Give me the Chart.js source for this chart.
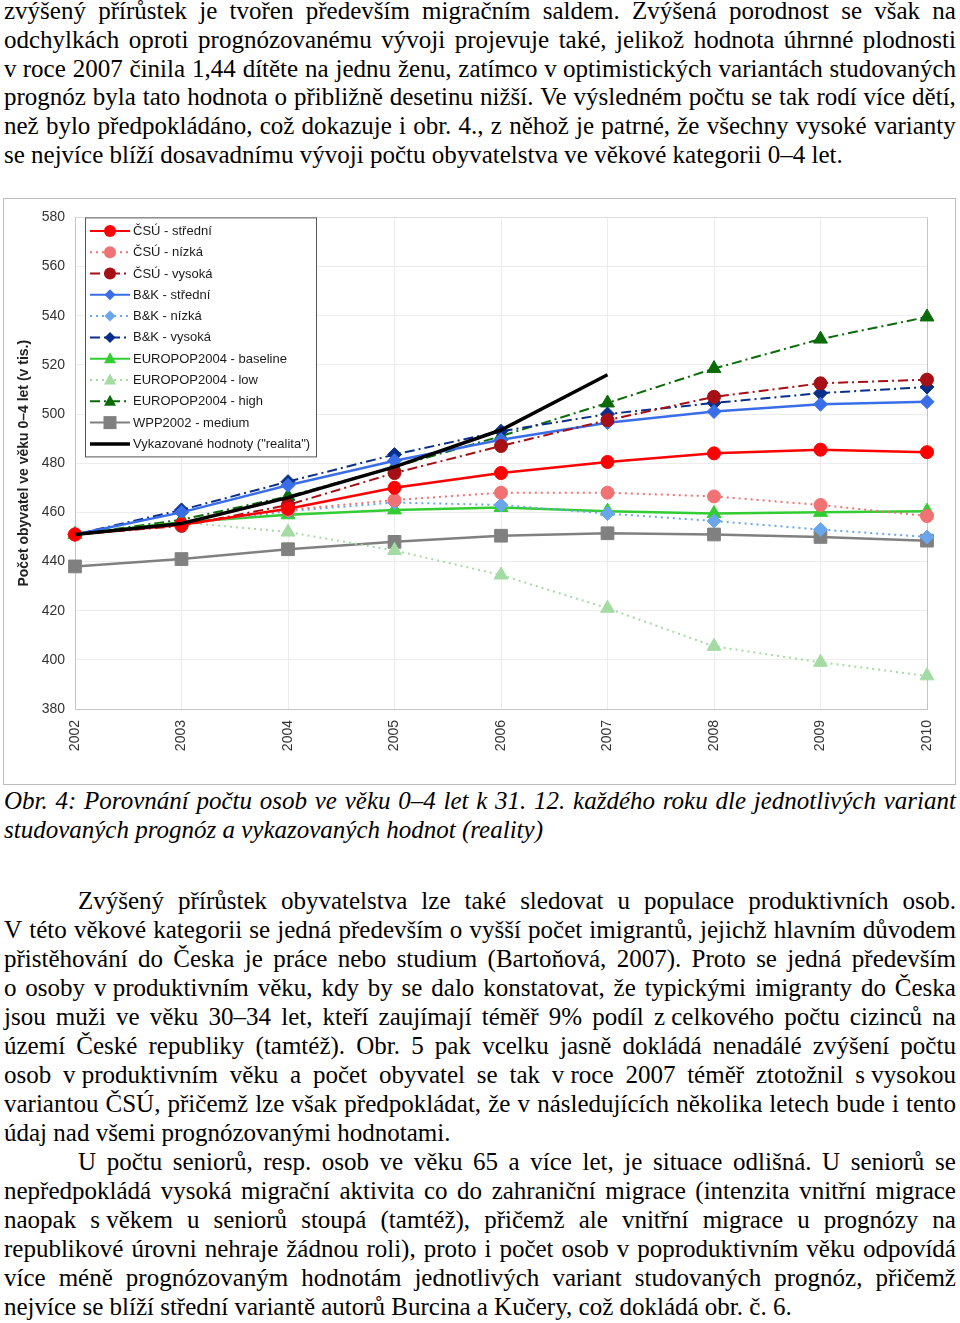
<!DOCTYPE html>
<html lang="cs">
<head>
<meta charset="utf-8">
<title>Obr. 4</title>
<script src="https://cdn.jsdelivr.net/npm/chart.js@4.4.1/dist/chart.umd.min.js"></script>
<style>
  html, body { margin: 0; padding: 0; background: #fff; }
  body {
    width: 960px; height: 1323px; position: relative; overflow: hidden;
    font-family: "Liberation Serif", "Times New Roman", serif;
    font-size: 25px; color: #000;
  }
  .ln { position: absolute; left: 4px; width: 952px; height: 29px; line-height: 29px; white-space: nowrap; }
  .ln.ind { left: 78px; width: 878px; }
  .j { display: flex; justify-content: space-between; }
  .it { font-style: italic; }
  #box {
    position: absolute; left: 3px; top: 198px; width: 951px; height: 585px;
    border: 1px solid #bdbdbd; background: #fff;
  }
  #chart { display: block; }
</style>
</head>
<body>

<div class="ln j" style="top:-4px">zvýšený přírůstek je tvořen především migračním saldem. Zvýšená porodnost se však na</div>
<div class="ln j" style="top:25px">odchylkách oproti prognózovanému vývoji projevuje také, jelikož hodnota úhrnné plodnosti</div>
<div class="ln j" style="top:54px">v&nbsp;roce 2007 činila 1,44 dítěte na jednu ženu, zatímco v&nbsp;optimistických variantách studovaných</div>
<div class="ln j" style="top:82px">prognóz byla tato hodnota o přibližně desetinu nižší. Ve výsledném počtu se tak rodí více dětí,</div>
<div class="ln j" style="top:111px">než bylo předpokládáno, což dokazuje i obr. 4., z něhož je patrné, že všechny vysoké varianty</div>
<div class="ln" style="top:140px">se nejvíce blíží dosavadnímu vývoji počtu obyvatelstva ve věkové kategorii 0–4 let.</div>

<div id="box"><canvas id="chart" width="951" height="585"></canvas></div>

<div class="ln j it" style="top:786px">Obr. 4: Porovnání počtu osob ve věku 0–4 let k 31. 12. každého roku dle jednotlivých variant</div>
<div class="ln it" style="top:815px">studovaných prognóz a vykazovaných hodnot (reality)</div>

<div class="ln j ind" style="top:886px">Zvýšený přírůstek obyvatelstva lze také sledovat u populace produktivních osob.</div>
<div class="ln j" style="top:915px">V této věkové kategorii se jedná především o vyšší počet imigrantů, jejichž hlavním důvodem</div>
<div class="ln j" style="top:944px">přistěhování do Česka je práce nebo studium (Bartoňová, 2007). Proto se jedná především</div>
<div class="ln j" style="top:973px">o osoby v&nbsp;produktivním věku, kdy by se dalo konstatovat, že typickými imigranty do Česka</div>
<div class="ln j" style="top:1002px">jsou muži ve věku 30–34 let, kteří zaujímají téměř 9% podíl z&nbsp;celkového počtu cizinců na</div>
<div class="ln j" style="top:1031px">území České republiky (tamtéž). Obr. 5 pak vcelku jasně dokládá nenadálé zvýšení počtu</div>
<div class="ln j" style="top:1060px">osob v&nbsp;produktivním věku a počet obyvatel se tak v&nbsp;roce 2007 téměř ztotožnil s&nbsp;vysokou</div>
<div class="ln j" style="top:1089px">variantou ČSÚ, přičemž lze však předpokládat, že v následujících několika letech bude i tento</div>
<div class="ln" style="top:1118px">údaj nad všemi prognózovanými hodnotami.</div>
<div class="ln j ind" style="top:1147px">U počtu seniorů, resp. osob ve věku 65 a více let, je situace odlišná. U seniorů se</div>
<div class="ln j" style="top:1176px">nepředpokládá vysoká migrační aktivita co do zahraniční migrace (intenzita vnitřní migrace</div>
<div class="ln j" style="top:1205px">naopak s&nbsp;věkem u seniorů stoupá (tamtéž), přičemž ale vnitřní migrace u prognózy na</div>
<div class="ln j" style="top:1234px">republikové úrovni nehraje žádnou roli), proto i počet osob v poproduktivním věku odpovídá</div>
<div class="ln j" style="top:1263px">více méně prognózovaným hodnotám jednotlivých variant studovaných prognóz, přičemž</div>
<div class="ln" style="top:1292px">nejvíce se blíží střední variantě autorů Burcina a Kučery, což dokládá obr. č. 6.</div>

<script>
// justified lines: one span per word, flex spreads the gaps
document.querySelectorAll('.j').forEach(function (el) {
  var words = el.textContent.split(' ');
  el.textContent = '';
  words.forEach(function (w) {
    var s = document.createElement('span');
    s.textContent = w;
    el.appendChild(s);
  });
});

// data (tis. osob ve veku 0-4 let)
const years = ['2002', '2003', '2004', '2005', '2006', '2007', '2008', '2009', '2010'];
const csuStredni = [451, 455, 461.5, 470, 476, 480.5, 484, 485.5, 484.5];
const csuNizka   = [451, 455, 461, 465, 468, 468, 466.5, 463, 458.5];
const csuVysoka  = [451, 454.5, 463, 476, 487, 497.5, 507, 512.5, 514];
const bkStredni  = [451, 460, 471, 481, 489.5, 496.5, 501, 504, 505];
const bkNizka    = [451, 455, 460.5, 464, 463, 459.5, 456.5, 453, 450];
const bkVysoka   = [451, 461, 472.5, 483.5, 493, 500, 504.5, 508.5, 511];
const euroBase   = [451, 456, 459, 461, 462, 460.5, 459.5, 460, 460.5];
const euroLow    = [451, 456, 452, 444.5, 434.5, 421, 405.5, 399, 393.5];
const euroHigh   = [451, 457, 466.5, 478.5, 491, 504.5, 518.5, 530.5, 539.5];
const wpp2002    = [438, 441, 445, 448, 450.5, 451.5, 451, 450, 448.5];
const realita    = [451, 455.5, 466, 478.5, 493.5, 516, null, null, null];
const yMin = 380, yMax = 580, yStep = 20;

const DOT = [2, 4];
const DASHDOT = [10, 4, 2, 4];

function serie(label, data, color, dash, style, r, width) {
  return {
    label: label,
    data: data,
    borderColor: color,
    backgroundColor: color,
    borderWidth: width,
    borderDash: dash,
    pointStyle: style,
    pointRadius: r,
    pointHoverRadius: r,
    pointBackgroundColor: color,
    pointBorderColor: color,
    pointBorderWidth: 1,
    tension: 0,
    fill: false
  };
}

const datasets = [
  serie('ČSÚ - střední', csuStredni, '#ff0000', [], 'circle', 6.5, 2.5),
  serie('ČSÚ - nízká', csuNizka, '#f07272', DOT, 'circle', 6.5, 2),
  serie('ČSÚ - vysoká', csuVysoka, '#a50f15', DASHDOT, 'circle', 6.5, 2),
  serie('B&K - střední', bkStredni, '#3a6ee8', [], 'rectRot', 7, 2.5),
  serie('B&K - nízká', bkNizka, '#6aa6ec', DOT, 'rectRot', 7, 2),
  serie('B&K - vysoká', bkVysoka, '#0a2f8a', DASHDOT, 'rectRot', 7, 2),
  serie('EUROPOP2004 - baseline', euroBase, '#33cc33', [], 'triangle', 8, 2.5),
  serie('EUROPOP2004 - low', euroLow, '#a3dba3', DOT, 'triangle', 8, 2),
  serie('EUROPOP2004 - high', euroHigh, '#0b6b0b', DASHDOT, 'triangle', 8, 2),
  serie('WPP2002 - medium', wpp2002, '#808080', [], 'rect', 9, 2.5),
  serie('Vykazované hodnoty ("realita")', realita, '#000000', [], 'circle', 0, 3.5)
];
datasets[10].order = -1; // black line on top
datasets[10].spanGaps = false;

// legend box inside the plot, top left
const boxLegend = {
  id: 'boxLegend',
  afterDatasetsDraw(chart) {
    const ctx = chart.ctx, a = chart.chartArea;
    const x0 = a.left + 10, y0 = a.top, w = 231, h = 239;
    ctx.save();
    ctx.fillStyle = '#fff';
    ctx.fillRect(x0, y0, w, h);
    ctx.strokeStyle = '#555';
    ctx.lineWidth = 1;
    ctx.strokeRect(x0 + 0.5, y0 + 0.5, w, h);
    chart.data.datasets.forEach(function (ds, i) {
      const y = y0 + 13.5 + i * 21.3;
      const lx = x0 + 5, rx = x0 + 45, mx = x0 + 25;
      ctx.strokeStyle = ds.borderColor;
      ctx.lineWidth = ds.label.indexOf('realita') >= 0 ? 3.5 : 2;
      ctx.setLineDash(ds.borderDash);
      ctx.beginPath();
      ctx.moveTo(lx, y);
      ctx.lineTo(rx, y);
      ctx.stroke();
      ctx.setLineDash([]);
      ctx.fillStyle = ds.borderColor;
      ctx.beginPath();
      if (ds.pointRadius > 0) {
        if (ds.pointStyle === 'circle') {
          ctx.arc(mx, y, 6, 0, Math.PI * 2);
        } else if (ds.pointStyle === 'rectRot') {
          ctx.moveTo(mx, y - 5.5); ctx.lineTo(mx + 5.5, y);
          ctx.lineTo(mx, y + 5.5); ctx.lineTo(mx - 5.5, y);
          ctx.closePath();
        } else if (ds.pointStyle === 'triangle') {
          ctx.moveTo(mx, y - 6.5); ctx.lineTo(mx + 6, y + 4.5);
          ctx.lineTo(mx - 6, y + 4.5);
          ctx.closePath();
        } else if (ds.pointStyle === 'rect') {
          ctx.rect(mx - 6.5, y - 6.5, 13, 13);
        }
        ctx.fill();
      }
      ctx.fillStyle = '#1a1a1a';
      ctx.font = '13px "Liberation Sans", Arial, sans-serif';
      ctx.textBaseline = 'middle';
      ctx.textAlign = 'left';
      ctx.fillText(ds.label, x0 + 48, y + 0.5);
    });
    ctx.restore();
  }
};

new Chart(document.getElementById('chart'), {
  type: 'line',
  data: { labels: years, datasets: datasets },
  options: {
    responsive: false,
    animation: false,
    events: [],
    layout: { padding: { top: 18, right: 28, left: 0, bottom: 0 } },
    plugins: {
      legend: { display: false },
      tooltip: { enabled: false }
    },
    scales: {
      x: {
        offset: false,
        grid: {
          drawTicks: false,
          color: function (c) { return c.index === years.length - 1 ? '#c4c4c4' : '#ececec'; },
          lineWidth: 1
        },
        border: { color: '#c4c4c4', width: 1 },
        ticks: {
          autoSkip: false,
          minRotation: 90,
          maxRotation: 90,
          padding: 11,
          color: '#333',
          font: { family: '"Liberation Sans", Arial, sans-serif', size: 14 }
        },
        afterFit: function (s) { s.height = 75; }
      },
      y: {
        min: yMin,
        max: yMax,
        grid: {
          drawTicks: false,
          color: function (c) { return c.tick && c.tick.value === yMax ? '#dcdcdc' : '#ececec'; }
        },
        border: { color: '#c4c4c4', width: 1 },
        ticks: {
          stepSize: yStep,
          padding: 10,
          color: '#333',
          font: { family: '"Liberation Sans", Arial, sans-serif', size: 14 }
        },
        title: {
          display: true,
          text: 'Počet obyvatel ve věku 0–4 let (v tis.)',
          color: '#222',
          padding: 12,
          font: { family: '"Liberation Sans", Arial, sans-serif', size: 14, weight: 'bold' }
        },
        afterFit: function (s) { s.width = 71; }
      }
    }
  },
  plugins: [boxLegend]
});
</script>
</body>
</html>
